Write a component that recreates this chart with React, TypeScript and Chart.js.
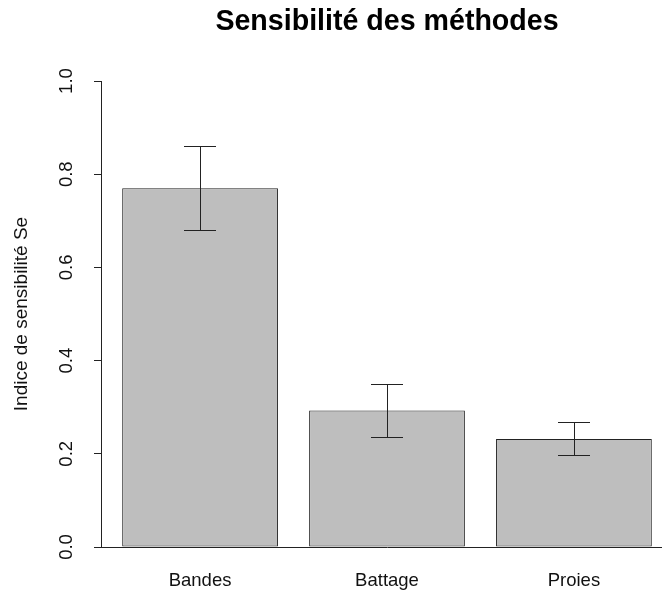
import React, { useEffect, useRef } from 'react';
import { Chart, registerables } from 'chart.js';

Chart.register(...registerables);

// ---- data ----
const TITLE = 'Sensibilité des méthodes';
const Y_TITLE = 'Indice de sensibilité Se';
const categories = ['Bandes', 'Battage', 'Proies'];
const sensitivity = [0.770, 0.293, 0.232];
const errLower = [0.681, 0.237, 0.198];
const errUpper = [0.861, 0.350, 0.268];
const yTickValues = [0, 0.2, 0.4, 0.6, 0.8, 1.0];

// ---- layout (R barplot style: width 1, space 0.2, 4% axis extension) ----
const BAR_WIDTH = 1;
const BAR_SPACE = 0.2;
const CAP_HALF = 0.1;
const centers = categories.map((_, i) => BAR_SPACE + i * (BAR_WIDTH + BAR_SPACE) + BAR_WIDTH / 2);
const xLo = BAR_SPACE;
const xHi = BAR_SPACE + categories.length * (BAR_WIDTH + BAR_SPACE) - BAR_SPACE;
const xExt = (xHi - xLo) * 0.04;

const LINE = '#222';
const FONT = "'Liberation Sans', Arial, sans-serif";

const errorBars = {
  id: 'errorBars',
  afterDatasetsDraw(chart: any) {
    const { ctx, scales } = chart;
    const x = scales.x;
    const y = scales.y;
    ctx.save();
    ctx.strokeStyle = LINE;
    ctx.lineWidth = 1;
    centers.forEach((c, i) => {
      const px = Math.round(x.getPixelForValue(c)) + 0.5;
      const l = Math.round(x.getPixelForValue(c - CAP_HALF));
      const r = Math.round(x.getPixelForValue(c + CAP_HALF));
      const hi = Math.round(y.getPixelForValue(errUpper[i])) + 0.5;
      const lo = Math.round(y.getPixelForValue(errLower[i])) + 0.5;
      ctx.beginPath();
      ctx.moveTo(px, hi);
      ctx.lineTo(px, lo);
      ctx.moveTo(l, hi);
      ctx.lineTo(r, hi);
      ctx.moveTo(l, lo);
      ctx.lineTo(r, lo);
      ctx.stroke();
    });
    ctx.restore();
  },
};

export default function App() {
  const ref = useRef<HTMLCanvasElement | null>(null);

  useEffect(() => {
    if (!ref.current) return;
    const chart = new Chart(ref.current, {
      type: 'bar',
      data: {
        datasets: [
          {
            data: centers.map((c, i) => ({ x: c, y: sensitivity[i] })),
            backgroundColor: '#bebebe',
            borderColor: LINE,
            borderWidth: 1,
            borderSkipped: false,
            categoryPercentage: 1,
            barPercentage: BAR_WIDTH / (BAR_WIDTH + BAR_SPACE),
          } as any,
        ],
      },
      options: {
        animation: false,
        responsive: false,
        devicePixelRatio: 1,
        events: [],
        layout: { padding: 0 },
        plugins: {
          legend: { display: false },
          tooltip: { enabled: false },
          title: {
            display: true,
            fullSize: false,
            text: TITLE,
            color: '#000',
            font: { family: FONT, size: 28.6, weight: 'bold' },
            padding: { top: 5, bottom: 41.7 },
          },
        },
        scales: {
          x: {
            type: 'linear',
            offset: false,
            min: xLo - xExt,
            max: xHi + xExt,
            afterFit: (s: any) => { s.height = 47; },
            afterBuildTicks: (s: any) => { s.ticks = centers.map((v) => ({ value: v })); },
            grid: { display: false, drawTicks: false },
            border: { display: true, color: LINE, width: 1 },
            ticks: {
              autoSkip: false,
              minRotation: 0,
              maxRotation: 0,
              padding: 23,
              color: '#111',
              font: { family: FONT, size: 18.5 },
              callback: (_v: any, i: number) => categories[i],
            },
          },
          y: {
            type: 'linear',
            min: 0,
            max: 1,
            afterFit: (s: any) => { s.width = 101; },
            afterBuildTicks: (s: any) => { s.ticks = yTickValues.map((v) => ({ value: v })); },
            grid: { drawOnChartArea: false, drawTicks: true, tickLength: 7, color: LINE },
            border: { display: true, color: LINE, width: 1 },
            ticks: {
              minRotation: 90,
              maxRotation: 90,
              crossAlign: 'center',
              padding: 14,
              color: '#111',
              font: { family: FONT, size: 18.5 },
              callback: (v: any) => Number(v).toFixed(1),
            },
            title: {
              display: true,
              text: Y_TITLE,
              color: '#111',
              font: { family: FONT, size: 19 },
              padding: { top: 10, bottom: 0 },
            },
          },
        },
      } as any,
      plugins: [errorBars],
    });
    return () => chart.destroy();
  }, []);

  return (
    <div style={{ position: 'absolute', left: 0, top: 0, width: 662, height: 594, overflow: 'hidden', background: '#fff' }}>
      <canvas ref={ref} width={673} height={594} style={{ display: 'block' }} />
    </div>
  );
}
